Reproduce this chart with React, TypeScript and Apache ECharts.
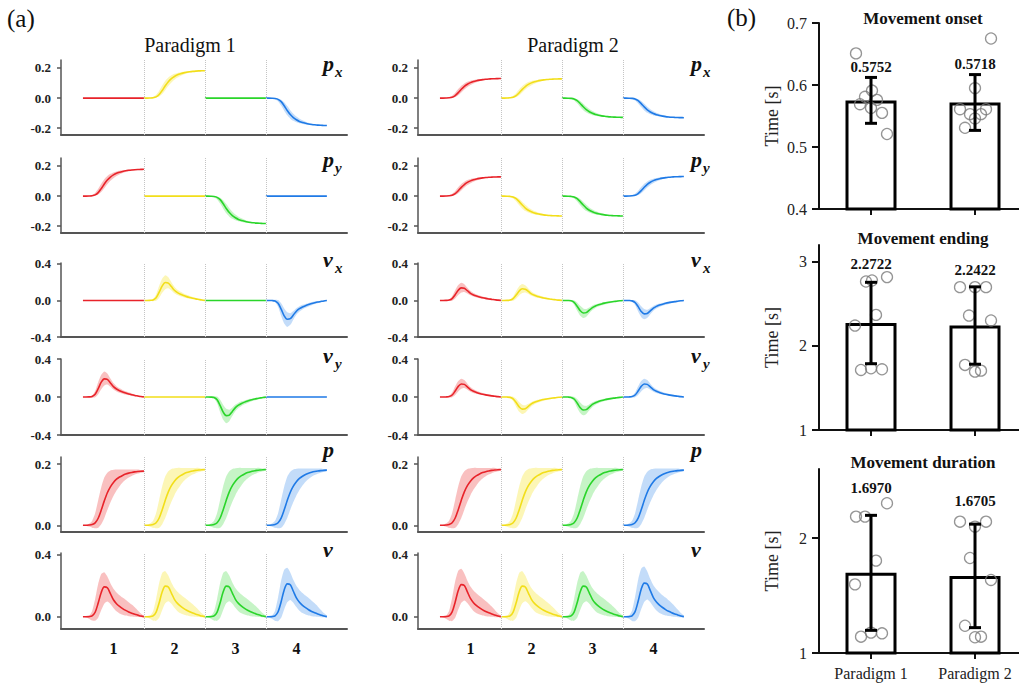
import React, { useEffect, useRef } from 'react';
import * as echarts from 'echarts';

const SERIF = "'Liberation Serif', 'Times New Roman', serif";

// ---------- (a) trajectory data ----------
const segmentLabels = ['1', '2', '3', '4'];
const segColors = ['#e8232a', '#f2de1a', '#2ad52a', '#1f7ae6'];
const bandColors = ['rgba(236,60,60,0.32)', 'rgba(245,228,40,0.34)', 'rgba(50,215,50,0.28)', 'rgba(40,130,235,0.28)'];

// normalised time inside one movement segment
const tSamples = [0, 0.05, 0.1, 0.15, 0.2, 0.25, 0.3, 0.35, 0.4, 0.45, 0.5, 0.55, 0.6, 0.65, 0.7, 0.75, 0.8, 0.85, 0.9, 0.95, 1];

// position profile (normalised to final displacement)
const posMean = [0, 0, 0.005, 0.015, 0.045, 0.13, 0.28, 0.45, 0.6, 0.71, 0.79, 0.85, 0.89, 0.92, 0.945, 0.962, 0.975, 0.985, 0.992, 0.997, 1];
const posNarrowHi = [0, 0.003, 0.012, 0.04, 0.12, 0.27, 0.46, 0.63, 0.75, 0.83, 0.885, 0.92, 0.945, 0.963, 0.976, 0.985, 0.991, 0.995, 0.998, 1, 1];
const posNarrowLo = [0, 0, 0.002, 0.006, 0.02, 0.06, 0.15, 0.29, 0.44, 0.57, 0.67, 0.75, 0.81, 0.86, 0.9, 0.93, 0.95, 0.967, 0.98, 0.99, 0.997];
const posWideHi = [0, 0.01, 0.03, 0.08, 0.22, 0.46, 0.7, 0.88, 0.97, 1.01, 1.025, 1.03, 1.03, 1.03, 1.03, 1.03, 1.03, 1.03, 1.03, 1.02, 1.015];
const posWideLo = [0, -0.01, -0.025, -0.045, -0.055, -0.045, 0.02, 0.13, 0.28, 0.42, 0.54, 0.64, 0.72, 0.79, 0.84, 0.88, 0.91, 0.935, 0.955, 0.97, 0.98];

// velocity profile (normalised to peak)
const velMean = [0, 0, 0.005, 0.03, 0.15, 0.45, 0.8, 0.98, 0.95, 0.76, 0.56, 0.43, 0.34, 0.27, 0.21, 0.16, 0.12, 0.085, 0.055, 0.025, 0.005];
const velNarrowHi = [0, 0.005, 0.015, 0.08, 0.33, 0.8, 1.2, 1.38, 1.27, 1.0, 0.75, 0.58, 0.47, 0.38, 0.31, 0.25, 0.19, 0.14, 0.09, 0.05, 0.02];
const velNarrowLo = [0, -0.005, -0.015, -0.04, -0.02, 0.15, 0.42, 0.62, 0.67, 0.55, 0.4, 0.3, 0.23, 0.18, 0.13, 0.09, 0.06, 0.04, 0.02, 0.005, -0.01];
const velWideHi = [0, 0.005, 0.03, 0.18, 0.58, 1.08, 1.4, 1.46, 1.32, 1.1, 0.92, 0.8, 0.71, 0.63, 0.56, 0.48, 0.4, 0.31, 0.21, 0.11, 0.03];
const velWideLo = [0, -0.02, -0.06, -0.12, -0.13, -0.03, 0.22, 0.43, 0.5, 0.42, 0.29, 0.18, 0.11, 0.07, 0.04, 0.02, 0.01, 0, -0.01, -0.015, -0.02];

// per-segment amplitudes (final displacement / peak velocity), Paradigm 1
const p1Px = [0, 0.182, 0, -0.182];
const p1Py = [0.178, 0, -0.182, 0];
const p1Vx = [0, 0.2, 0, -0.21];
const p1Vy = [0.195, 0, -0.2, 0];
const p1P = [0.177, 0.182, 0.182, 0.18];
const p1V = [0.195, 0.2, 0.2, 0.215];
// Paradigm 2
const p2Px = [0.13, 0.128, -0.128, -0.13];
const p2Py = [0.128, -0.132, -0.132, 0.13];
const p2Vx = [0.14, 0.13, -0.14, -0.15];
const p2Vy = [0.14, -0.13, -0.14, 0.14];
const p2P = [0.182, 0.182, 0.182, 0.18];
const p2V = [0.21, 0.2, 0.2, 0.22];

const paradigmTitles = ['Paradigm 1', 'Paradigm 2'];
const yTicksPos = [-0.2, 0, 0.2];
const yTicksVel = [-0.4, 0, 0.4];
const yTicksP = [0, 0.2];
const yTicksV = [0, 0.4];

// ---------- (b) timing data ----------
const groupNames = ['Paradigm 1', 'Paradigm 2'];
const onsetMeans = [0.5752, 0.5718];
const onsetErr = [0.037, 0.045];
const onsetP1 = [0.651, 0.591, 0.581, 0.569, 0.576, 0.563, 0.555, 0.521];
const onsetP2 = [0.675, 0.595, 0.561, 0.561, 0.553, 0.553, 0.546, 0.531];
const endingMeans = [2.2722, 2.2422];
const endingErr = [0.484, 0.46];
const endingP1 = [2.766, 2.778, 2.818, 2.369, 2.242, 1.714, 1.734, 1.722];
const endingP2 = [2.699, 2.699, 2.699, 2.361, 2.302, 1.774, 1.694, 1.706];
const durationMeans = [1.697, 1.6705];
const durationErr = [0.5, 0.45];
const durationP1 = [2.302, 2.186, 2.186, 1.803, 1.597, 1.142, 1.177, 1.171];
const durationP2 = [2.142, 2.099, 2.142, 1.826, 1.635, 1.237, 1.137, 1.142];
const onsetTicks = [0.4, 0.5, 0.6, 0.7];
const endingTicks = [1, 2, 3];
const durationTicks = [1, 2];
// horizontal jitter of the individual points (px)
const jitterOnset = [[-15, 1, -6, -11, 6, 0, 11, 16], [16, 0, -15, 11, -5, 6, 0, -10]];
const jitterEnding = [[-5, 1, 16, 5, -16, -10, 0, 11], [-15, 0, 11, -6, 16, -10, 0, 6]];
const jitterDuration = [[16, -15, -6, 5, -16, -10, 0, 11], [-15, 0, 11, -5, 16, -10, 0, 6]];

function buildOption() {
  const grid: any[] = [];
  const xAxis: any[] = [];
  const yAxis: any[] = [];
  const series: any[] = [];
  const graphic: any[] = [];

  const rows = [
    { letter: 'p', sub: 'x', kind: 'pos', band: 'narrow', amps: [p1Px, p2Px], top: 60, bottom: 135, min: -0.245, max: 0.253, ticks: yTicksPos, ly: 66 },
    { letter: 'p', sub: 'y', kind: 'pos', band: 'narrow', amps: [p1Py, p2Py], top: 158, bottom: 233, min: -0.245, max: 0.253, ticks: yTicksPos, ly: 162 },
    { letter: 'v', sub: 'x', kind: 'vel', band: 'narrow', amps: [p1Vx, p2Vx], top: 263, bottom: 337, min: -0.4, max: 0.41, ticks: yTicksVel, ly: 262 },
    { letter: 'v', sub: 'y', kind: 'vel', band: 'narrow', amps: [p1Vy, p2Vy], top: 359, bottom: 435, min: -0.4, max: 0.4, ticks: yTicksVel, ly: 358 },
    { letter: 'p', sub: '', kind: 'pos', band: 'wide', amps: [p1P, p2P], top: 457, bottom: 532, min: -0.022, max: 0.223, ticks: yTicksP, ly: 452 },
    { letter: 'v', sub: '', kind: 'vel', band: 'wide', amps: [p1V, p2V], top: 553, bottom: 629, min: -0.078, max: 0.408, ticks: yTicksV, ly: 552 },
  ];
  const colLeft = [61, 418];
  const colWidth = 286;
  const labelX = [323, 691];

  rows.forEach((row, r) => {
    const mean = row.kind === 'pos' ? posMean : velMean;
    const hi = row.kind === 'pos' ? (row.band === 'wide' ? posWideHi : posNarrowHi) : (row.band === 'wide' ? velWideHi : velNarrowHi);
    const lo = row.kind === 'pos' ? (row.band === 'wide' ? posWideLo : posNarrowLo) : (row.band === 'wide' ? velWideLo : velNarrowLo);
    for (let c = 0; c < 2; c++) {
      const gi = grid.length;
      grid.push({ left: colLeft[c], top: row.top, width: colWidth, height: row.bottom - row.top, containLabel: false });
      const isBottom = r === rows.length - 1;
      xAxis.push({
        type: 'value', gridIndex: gi, min: -0.36, max: 4.33,
        axisLine: { show: true, onZero: false, lineStyle: { color: '#555', width: 2 } },
        axisTick: { show: false },
        splitLine: { show: false },
        axisLabel: {
          show: isBottom,
          customValues: [0.5, 1.5, 2.5, 3.5],
          formatter: (v: number) => segmentLabels[Math.floor(v)] ?? '',
          fontFamily: SERIF, fontWeight: 'bold', fontSize: 16, color: '#111', margin: 11,
        },
      });
      yAxis.push({
        type: 'value', gridIndex: gi, min: row.min, max: row.max,
        axisLine: { show: true, onZero: false, lineStyle: { color: '#555', width: 1.5 } },
        axisTick: { show: true, length: 4, customValues: row.ticks, lineStyle: { color: '#555', width: 1.5 } },
        splitLine: { show: false },
        axisLabel: {
          customValues: row.ticks,
          formatter: (v: number) => v.toFixed(1),
          fontFamily: SERIF, fontWeight: 'bold', fontSize: 13, color: '#222', margin: 10,
        },
      });
      const amps = row.amps[c];
      const bands = amps.map((a, k) => ({
        x0: k,
        hi: hi.map((h) => h * a),
        lo: lo.map((l) => l * a),
        color: bandColors[k],
        show: a !== 0,
      }));
      series.push({
        type: 'custom', xAxisIndex: gi, yAxisIndex: gi, silent: true, clip: true,
        data: bands.map((b) => [b.x0 + 0.5, 0]),
        renderItem: (params: any, api: any) => {
          const b = bands[params.dataIndex];
          if (!b || !b.show) return null;
          const pts: number[][] = [];
          for (let i = 0; i < tSamples.length; i++) pts.push(api.coord([b.x0 + tSamples[i], b.hi[i]]));
          for (let i = tSamples.length - 1; i >= 0; i--) pts.push(api.coord([b.x0 + tSamples[i], b.lo[i]]));
          return { type: 'polygon', shape: { points: pts, smooth: 0.2 }, style: { fill: b.color, stroke: 'none' } };
        },
      });
      amps.forEach((a, k) => {
        series.push({
          type: 'line', xAxisIndex: gi, yAxisIndex: gi, silent: true,
          data: tSamples.map((t, i) => [k + t, mean[i] * a]),
          smooth: 0.3, symbol: 'none',
          lineStyle: { color: segColors[k], width: 1.6 },
          markLine: k === 0 ? {
            silent: true, symbol: ['none', 'none'], label: { show: false },
            lineStyle: { color: '#c4c4c4', type: 'dotted', width: 1 },
            data: [{ xAxis: 1 }, { xAxis: 2 }, { xAxis: 3 }],
          } : undefined,
        });
      });
      // row label
      graphic.push({
        type: 'text', left: labelX[c], top: row.ly - 14,
        style: { text: row.letter, font: `italic bold 22px ${SERIF}`, fill: '#111' },
      });
      if (row.sub) {
        graphic.push({
          type: 'text', left: labelX[c] + 12, top: row.ly - 2,
          style: { text: row.sub, font: `italic bold 15px ${SERIF}`, fill: '#111' },
        });
      }
    }
  });

  graphic.push({ type: 'text', left: 7, top: 6, style: { text: '(a)', font: `25px ${SERIF}`, fill: '#111' } });
  graphic.push({ type: 'text', left: 727, top: 5, style: { text: '(b)', font: `25px ${SERIF}`, fill: '#111' } });
  graphic.push({ type: 'text', x: 190, y: 45, style: { text: paradigmTitles[0], font: `20px ${SERIF}`, fill: '#111', align: 'center', verticalAlign: 'middle' } });
  graphic.push({ type: 'text', x: 573, y: 45, style: { text: paradigmTitles[1], font: `20px ${SERIF}`, fill: '#111', align: 'center', verticalAlign: 'middle' } });

  // ---------- (b) ----------
  const charts = [
    { title: 'Movement onset', ty: 18, top: 23, bottom: 209, min: 0.4, max: 0.7, ticks: onsetTicks, dec: 1, means: onsetMeans, err: onsetErr, pts: [onsetP1, onsetP2], jit: jitterOnset, lab: [10, 11] },
    { title: 'Movement ending', ty: 238, top: 245, bottom: 430, min: 1, max: 3.2, ticks: endingTicks, dec: 0, means: endingMeans, err: endingErr, pts: [endingP1, endingP2], jit: jitterEnding, lab: [18, 17] },
    { title: 'Movement duration', ty: 462, top: 469, bottom: 653, min: 1, max: 2.6, ticks: durationTicks, dec: 0, means: durationMeans, err: durationErr, pts: [durationP1, durationP2], jit: jitterDuration, lab: [27, 23] },
  ];
  const pxPerUnit = 104;
  charts.forEach((ch, ci) => {
    const gi = grid.length;
    grid.push({ left: 819, top: ch.top, width: 200, height: ch.bottom - ch.top });
    xAxis.push({
      type: 'value', gridIndex: gi, min: -0.5, max: 1.423,
      axisLine: { show: true, onZero: false, lineStyle: { color: '#111', width: 2 } },
      axisTick: { show: true, customValues: [0, 1], length: 6, lineStyle: { color: '#111', width: 2 } },
      splitLine: { show: false },
      axisLabel: {
        show: ci === charts.length - 1,
        customValues: [0, 1],
        formatter: (v: number) => groupNames[Math.round(v)] ?? '',
        fontFamily: SERIF, fontSize: 16, color: '#222', margin: 12,
      },
    });
    yAxis.push({
      type: 'value', gridIndex: gi, min: ch.min, max: ch.max,
      name: 'Time [s]', nameLocation: 'middle', nameGap: 38, nameRotate: 90,
      nameTextStyle: { fontFamily: SERIF, fontSize: 18, color: '#222' },
      axisLine: { show: true, onZero: false, lineStyle: { color: '#111', width: 2 } },
      axisTick: { show: true, customValues: ch.ticks, length: 7, lineStyle: { color: '#111', width: 2 } },
      splitLine: { show: false },
      axisLabel: {
        customValues: ch.ticks,
        formatter: (v: number) => v.toFixed(ch.dec),
        fontFamily: SERIF, fontSize: 16, color: '#222', margin: 12,
      },
    });
    series.push({
      type: 'bar', xAxisIndex: gi, yAxisIndex: gi, silent: true, clip: true,
      barWidth: 51,
      data: ch.means.map((m, i) => [i, m]),
      itemStyle: { color: '#fff', borderColor: '#000', borderWidth: 3 },
    });
    ch.pts.forEach((vals, g) => {
      series.push({
        type: 'scatter', xAxisIndex: gi, yAxisIndex: gi, silent: true,
        symbol: 'circle', symbolSize: 11,
        data: vals.map((v, i) => [g + ch.jit[g][i] / pxPerUnit, v]),
        itemStyle: { color: 'rgba(255,255,255,0)', borderColor: '#7a7a7a', borderWidth: 1.3 },
        z: 3,
      });
    });
    series.push({
      type: 'custom', xAxisIndex: gi, yAxisIndex: gi, silent: true, z: 4,
      data: ch.means.map((m, i) => [i, m - ch.err[i], m + ch.err[i], m]),
      encode: { x: 0, y: [1, 2] },
      renderItem: (params: any, api: any) => {
        const x = api.value(0);
        const pLo = api.coord([x, api.value(1)]);
        const pHi = api.coord([x, api.value(2)]);
        const cap = 6;
        const st = { stroke: '#000', lineWidth: 3 };
        return {
          type: 'group',
          children: [
            { type: 'line', shape: { x1: pLo[0], y1: pLo[1], x2: pHi[0], y2: pHi[1] }, style: st },
            { type: 'line', shape: { x1: pHi[0] - cap, y1: pHi[1], x2: pHi[0] + cap, y2: pHi[1] }, style: st },
            { type: 'line', shape: { x1: pLo[0] - cap, y1: pLo[1], x2: pLo[0] + cap, y2: pLo[1] }, style: st },
            {
              type: 'text', x: pHi[0], y: pHi[1] - ch.lab[params.dataIndex],
              style: { text: Number(api.value(3)).toFixed(4), font: `bold 15px ${SERIF}`, fill: '#111', align: 'center', verticalAlign: 'middle' },
            },
          ],
        };
      },
    });
    graphic.push({ type: 'text', x: 923, y: ch.ty, style: { text: ch.title, font: `bold 17px ${SERIF}`, fill: '#111', align: 'center', verticalAlign: 'middle' } });
  });

  return { animation: false, backgroundColor: '#fff', grid, xAxis, yAxis, series, graphic };
}

export default function App() {
  const ref = useRef<HTMLDivElement>(null);
  useEffect(() => {
    if (!ref.current) return;
    const chart = echarts.init(ref.current, null, { renderer: 'svg' });
    chart.setOption(buildOption() as any);
    return () => chart.dispose();
  }, []);
  return <div ref={ref} style={{ position: 'fixed', left: 0, top: 0, width: 1019, height: 688, background: '#fff' }} />;
}
